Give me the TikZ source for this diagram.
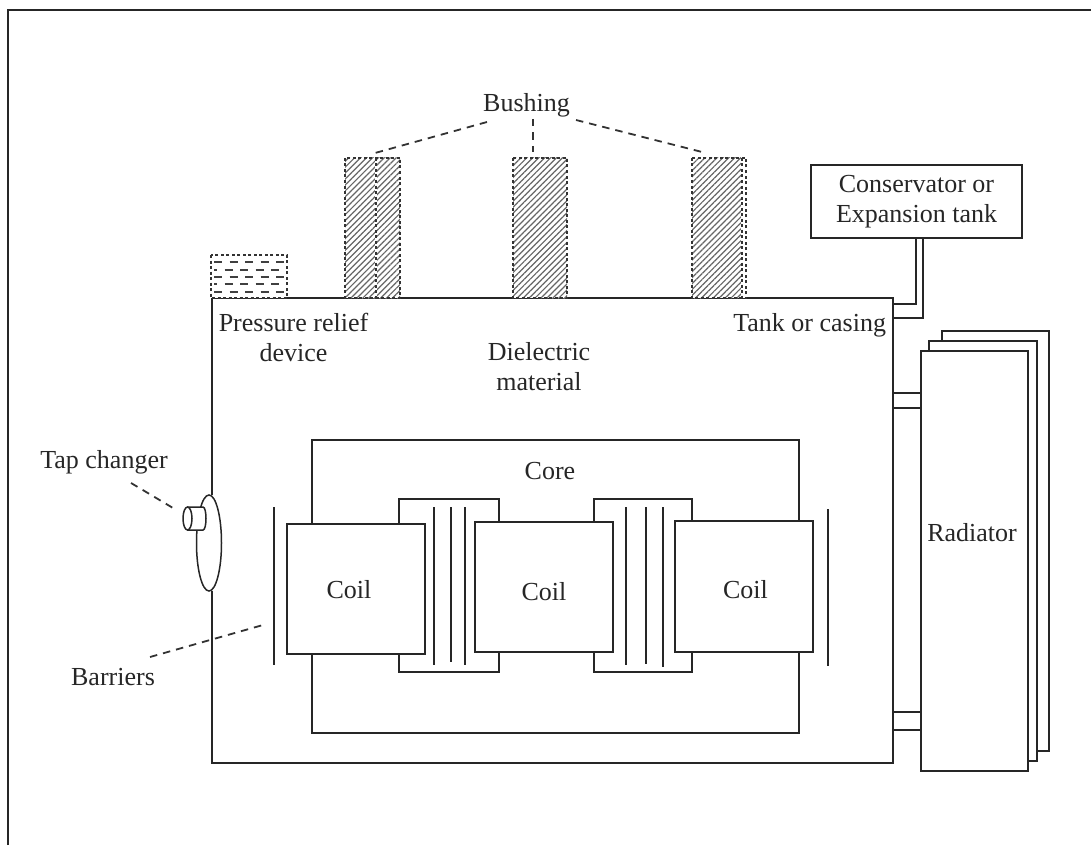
\documentclass[tikz,border=0pt]{standalone}
\usepackage{fontspec}
\setmainfont{Liberation Serif}
\usetikzlibrary{patterns.meta,calc,shapes.geometric}
\tikzset{
  ln/.style={draw=black!85,line width=1.5pt},
  boxn/.style={ln,fill=white,rectangle,inner sep=0pt,outer sep=0pt,font=\fontsize{26}{30}\selectfont,align=center,text=black!85},
  lab/.style={inner sep=0pt,outer sep=0pt,font=\fontsize{26}{30}\selectfont,align=center,text=black!85},
  lead/.style={draw=black!80,line width=1.8pt,dash pattern=on 7.5pt off 6pt},
  dot/.style={draw=black!80,line width=1.3pt,dash pattern=on 3pt off 2.5pt},
  hatch/.style={pattern={Lines[angle=45,distance=4.2pt,line width=1.2pt]},pattern color=black!60},
}
\begin{document}
\begin{tikzpicture}[x=1pt,y=-1pt]
\useasboundingbox (0,0) rectangle (1091,845);
% outer frame
\coordinate (fbl) at (8,845);
\coordinate (ftl) at (8,10);
\coordinate (ftr) at (1091,10);
\draw[ln] (fbl) -- (ftl) -- (ftr);
% tank
\coordinate (tl) at (212,298);
\coordinate (tr) at (893,298);
\coordinate (br) at (893,763);
\coordinate (bl) at (212,763);
\coordinate (gapA) at (212,495);
\coordinate (gapB) at (212,591);
\draw[ln] (gapA) -- (tl) -- (tr) -- (br) -- (bl) -- (gapB);
% pressure relief
\coordinate (pr1) at (211,255);
\coordinate (pr2) at (287,298);
\draw[dot,fill=white] (pr1) rectangle (pr2);
\foreach \y/\s in {262/0,270/5,277/0,284/5,292/0}{
  \draw[draw=black!75,line width=1.4pt,dash pattern=on 8pt off 7.5pt,dash phase=\s pt] (214,\y) -- (284,\y);
}
% bushings
\foreach \xa/\xb/\xh/\xm/\n in {345/400/400/376/a,513/567/567/0/b,692/746/741/742/c}{
  \coordinate (bush\n1) at (\xa,158);
  \coordinate (bush\n2) at (\xb,298);
  \coordinate (bush\n3) at (\xh,298);
  \fill[white] (bush\n1) rectangle (bush\n2);
  \fill[hatch] (bush\n1) rectangle (bush\n3);
  \draw[dot] (bush\n1) rectangle (bush\n2);
  \ifnum\xm>0 \draw[draw=white,line width=1.6pt] (\xm,158) -- (\xm,298); \draw[dot] (\xm,158) -- (\xm,298); \fi
}
% conservator
\node[boxn,minimum width=211pt,minimum height=73pt] (cons) at (916.5,201.5) {Conservator or\\Expansion tank};
\coordinate (pipeA) at (916,304);
\coordinate (pipeB) at (923,318);
\draw[ln] (cons.south -| pipeA) -- (pipeA) -- (pipeA -| tr);
\draw[ln] (cons.south -| pipeB) -- (pipeB) -- (pipeB -| tr);
% radiator
\node[boxn,minimum width=107pt,minimum height=420pt] (rad3) at (995.5,541) {};
\node[boxn,minimum width=108pt,minimum height=420pt] (rad2) at (983,551) {};
\node[boxn,minimum width=107pt,minimum height=420pt] (rad1) at (974.5,561) {};
\node[lab] (radlab) at (972,533) {Radiator};
\foreach \y in {393,408,712,730}{
  \coordinate (rp) at (893,\y);
  \draw[ln] (rp) -- (rp -| rad1.west);
}
% core
\node[boxn,minimum width=487pt,minimum height=293pt] (core) at (555.5,586.5) {};
\node[boxn,minimum width=100pt,minimum height=173pt] (yoke1) at (449,585.5) {};
\node[boxn,minimum width=98pt,minimum height=173pt] (yoke2) at (643,585.5) {};
\foreach \x/\t/\b in {434/507/665,451/507/662,465/507/665,626/507/665,646/507/664,663/507/667}{
  \coordinate (la) at (\x,\t);
  \coordinate (lb) at (\x,\b);
  \draw[ln,line width=1.6pt] (la) -- (lb);
}
\node[boxn,minimum width=138pt,minimum height=130pt] (coil1) at (356,589) {};
\node[boxn,minimum width=138pt,minimum height=130pt] (coil2) at (544,587) {};
\node[boxn,minimum width=138pt,minimum height=131pt] (coil3) at (744,586.5) {};
\node[lab] (c1) at (349,590) {Coil};
\node[lab] (c2) at (544,592) {Coil};
\node[lab] (c3) at (745.5,590) {Coil};
\node[lab] (corelab) at (550,471) {Core};
% barriers
\coordinate (b1a) at (274,507);
\coordinate (b1b) at (274,665);
\coordinate (b2a) at (828,509);
\coordinate (b2b) at (828,666);
\draw[ln,line width=1.7pt] (b1a) -- (b1b);
\draw[ln,line width=1.7pt] (b2a) -- (b2b);
% tap changer
\node[ln,fill=white,ellipse,minimum width=25pt,minimum height=96pt,inner sep=0pt] (disc) at (209,543) {};
\fill[white] (187,507) rectangle (206,531);
\coordinate (cylT) at (203,507);
\coordinate (cylB) at (203,530);
\draw[ln] (187,507) -- (cylT) .. controls (207,507) and (207,530) .. (cylB) -- (187,530);
\draw[ln,fill=white] (187.5,518.5) ellipse [x radius=4.5,y radius=11.5];
% labels
\node[lab] (bush) at (526.5,105.5) {Bushing};
\node[lab] (prd) at (293.5,337) {Pressure relief\\device};
\node[lab] (diel) at (539,366.5) {Dielectric\\material};
\node[lab,anchor=east] (tank) at (886,325) {Tank or casing};
\node[lab] (tap) at (104,462) {Tap changer};
\node[lab] (barr) at (113,677) {Barriers};
% leaders
\coordinate (ld1) at (375,153);
\coordinate (ld2) at (533,152);
\coordinate (ld3) at (702,152);
\coordinate (ld4) at (173,508);
\coordinate (ld5) at (263,625);
\draw[lead] (487,122) -- (ld1);
\draw[lead] (533,119) -- (ld2);
\draw[lead] (576,120) -- (ld3);
\draw[lead] (131,483) -- (ld4);
\draw[lead] (150,657) -- (ld5);
\end{tikzpicture}
\end{document}
